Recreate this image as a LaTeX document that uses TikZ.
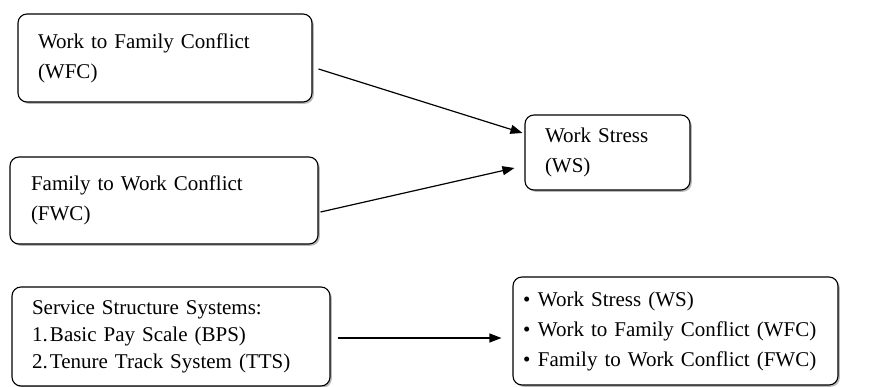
\documentclass[tikz,border=0pt]{standalone}
\usepackage{fontspec}
\setmainfont{Liberation Serif}
\usetikzlibrary{shadows,arrows.meta}

\tikzset{
  box/.style={draw, line width=1.1pt, rounded corners=9pt, fill=white, align=left,
    inner xsep=20pt, inner ysep=0pt,
    drop shadow={shadow xshift=1.8pt, shadow yshift=-1.8pt, fill=black!55}},
  link/.style={line width=1.2pt, -{Triangle[length=12pt,width=9pt]}}
}

\begin{document}
\begin{tikzpicture}[x=1pt, y=-1pt, font=\fontsize{21}{30}\selectfont]
  \useasboundingbox (0,0) rectangle (873,387);
  \node (wfc) [box, text width=254pt, minimum height=88pt] at (165,58) {Work to Family Conflict\\(WFC)};
  \node (fwc) [box, text width=266pt, minimum height=87pt, inner xsep=21pt] at (164,200.5) {Family to Work Conflict\\(FWC)};
  \node (ws) [box, text width=125pt, minimum height=75pt] at (607.5,152.5) {Work Stress\\(WS)};
  \node (sss) [box, text width=278pt, minimum height=99pt, font=\fontsize{21}{27}\selectfont] at (171,336.5)
    {Service Structure Systems:\\\makebox[18pt][l]{1.}Basic Pay Scale (BPS)\\\makebox[18pt][l]{2.}Tenure Track System (TTS)};
  \node (eff) [box, text width=305pt, minimum height=108pt, inner xsep=10pt] at (675.5,331)
    {\makebox[15pt][l]{\textbullet}Work Stress (WS)\\\makebox[15pt][l]{\textbullet}Work to Family Conflict (WFC)\\\makebox[15pt][l]{\textbullet}Family to Work Conflict (FWC)};
  \draw [link] ([shift={(6,11)}]wfc.east) -- ([shift={(-2,-19.5)}]ws.west);
  \draw [link] ([shift={(2,11.5)}]fwc.east) -- ([shift={(-10,15.5)}]ws.west);
  \draw [link] ([shift={(7,1.5)}]sss.east) -- ([shift={(-11,7)}]eff.west);
\end{tikzpicture}
\end{document}
